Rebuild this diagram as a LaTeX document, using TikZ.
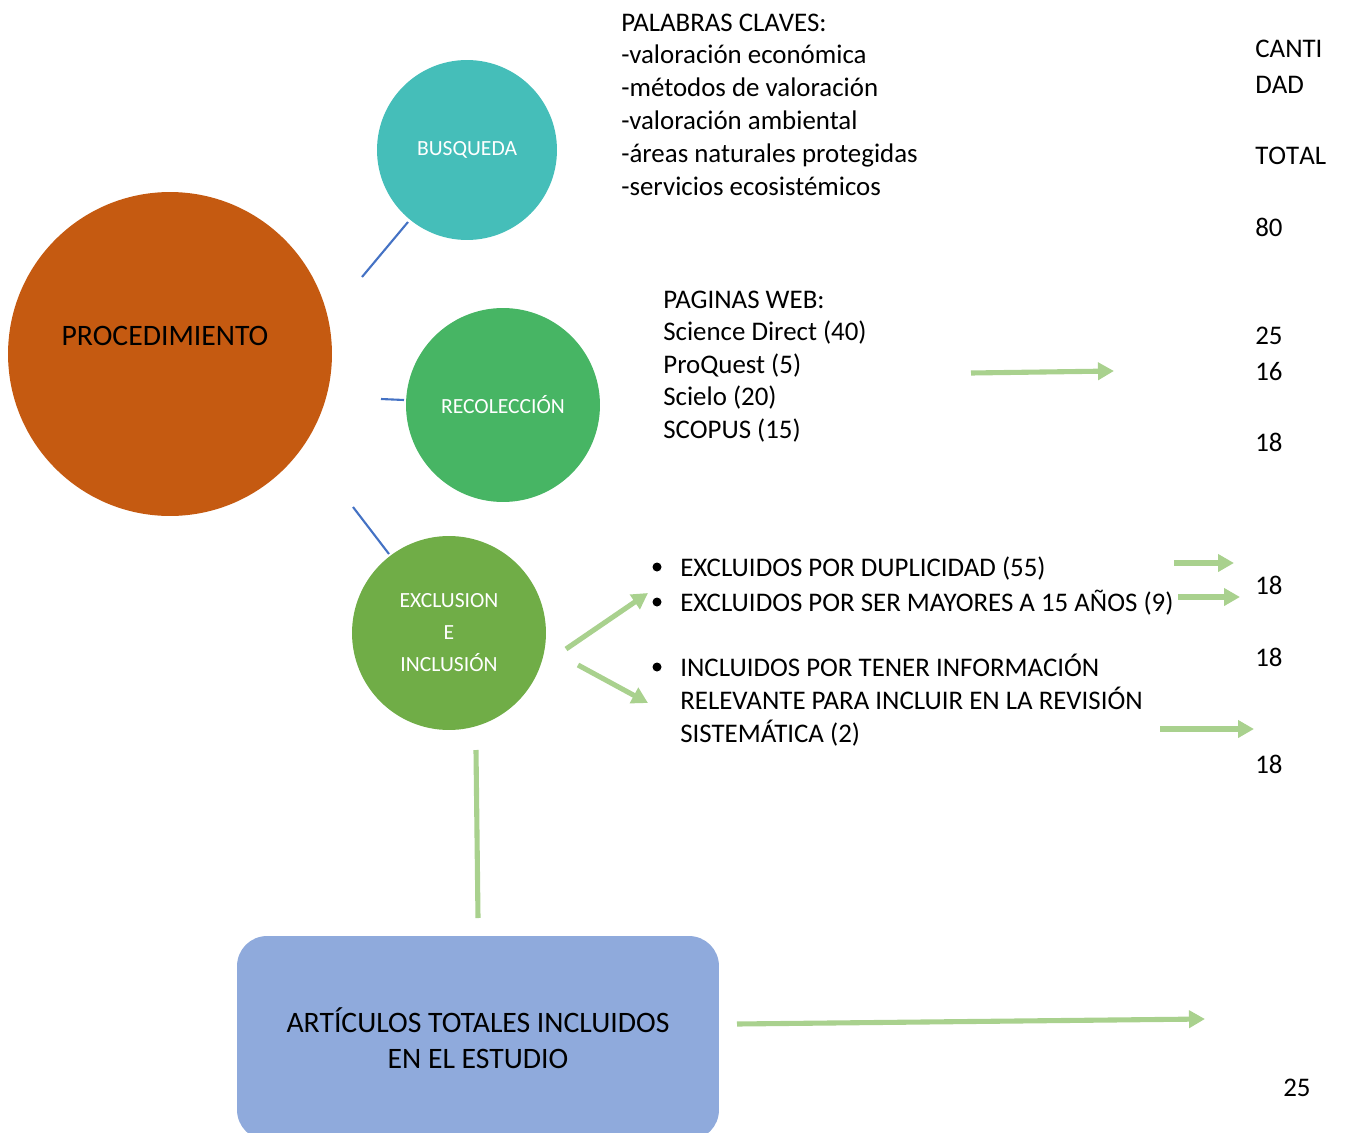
\documentclass[tikz,border=0pt]{standalone}
\usepackage{fontspec}
\setmainfont{Carlito}
\newfontfamily\nokern{Carlito}[Kerning=Off]
\usetikzlibrary{arrows.meta}
\definecolor{procorange}{HTML}{C55A11}
\definecolor{busqteal}{HTML}{45BEB9}
\definecolor{recogreen}{HTML}{47B564}
\definecolor{exclgreen}{HTML}{70AD47}
\definecolor{boxblue}{HTML}{8FAADC}
\definecolor{arrowgreen}{HTML}{A9D18E}
\definecolor{linkblue}{HTML}{4472C4}
\newcommand{\bodyfont}{\fontsize{15.3}{18.8}\selectfont}
\newcommand{\bigfont}{\fontsize{16.9}{20.5}\selectfont}
\newcommand{\smallfont}{\fontsize{12.3}{18.2}\selectfont}
\begin{document}
\begin{tikzpicture}[x=0.02cm, y=-0.02cm,
    bubble/.style={circle, inner sep=0pt, text=white, font=\smallfont, align=center},
    txt/.style={inner sep=0pt, anchor=base west, font=\bodyfont},
    link/.style={linkblue, line width=1.2pt},
    flow/.style={arrowgreen, line width=2.9pt, -{Triangle[length=0.32cm, width=0.34cm]}}]
    \useasboundingbox (0,0) rectangle (1347,1133);

    % Circles
    \node[bubble, fill=procorange, minimum size=6.48cm] (proc) at (170,354) {};
    \node[txt, anchor=base, font=\bigfont] (proclabel) at (165,345) {PROCEDIMIENTO};
    \node[bubble, fill=busqteal, minimum size=3.6cm] (busq) at (467,150) {BUSQUEDA};
    \node[bubble, fill=recogreen, minimum size=3.88cm] (reco) at (503,405) {RECOLECCIÓN};
    \node[bubble, fill=exclgreen, minimum size=3.88cm] (excl) at (449,633) {EXCLUSION\\E\\INCLUSIÓN};

    % Final box
    \node[fill=boxblue, rounded corners=0.6cm, minimum width=9.64cm, minimum height=4.08cm,
          font=\bigfont, align=center] (total) at (478,1038) {ARTÍCULOS TOTALES INCLUIDOS\\EN EL ESTUDIO};

    % Blue connectors
    \coordinate (l1a) at (362,277); \coordinate (l1b) at (408,222);
    \coordinate (l2a) at (381,399); \coordinate (l2b) at (404,400);
    \coordinate (l3a) at (353,507); \coordinate (l3b) at (389,554);
    \draw[link] (l1a) -- (l1b);
    \draw[link] (l2a) -- (l2b);
    \draw[link] (l3a) -- (l3b);

    % Key words
    \foreach \t [count=\i from 0] in {PALABRAS CLAVES:, -valoración económica, -métodos de valoración,
        -valoración ambiental, -áreas naturales protegidas, -servicios ecosistémicos}
        \node[txt] (kw\i) at (621,31+32.9*\i) {\t};

    % Web pages
    \foreach \t [count=\i from 0] in {PAGINAS WEB:, Science Direct (40), ProQuest (5), Scielo (20), SCOPUS (15)}
        \node[txt] (web\i) at (663,308+32.5*\i) {\t};

    % Excluded / included
    \node[txt] (dup) at (680,576) {EXCLUIDOS POR DUPLICIDAD (55)};
    \node[txt] (may) at (680,611) {EXCLUIDOS POR SER MAYORES A 15 AÑOS (9)};
    \foreach \t [count=\i from 0] in {INCLUIDOS POR TENER INFORMACIÓN, RELEVANTE PARA INCLUIR EN LA REVISIÓN, SISTEMÁTICA (2)}
        \node[txt] (inc\i) at (680,676+33*\i) {\t};
    \foreach \y [count=\i] in {567,602,667}
        \fill (657,\y) circle (4.5) coordinate (dot\i);

    % Quantities
    \node[txt, font=\bodyfont\nokern] (q1) at (1255,57) {CANTI};
    \node[txt, font=\bodyfont\nokern] (q2) at (1255,93) {DAD};
    \node[txt, font=\bodyfont\nokern] (q3) at (1255,164) {TOTAL};
    \foreach \t/\y [count=\i] in {80/236, 25/344, 16/380, 18/451, 18/594, 18/666, 18/773}
        \node[txt] (n\i) at (1255,\y) {\t};
    \node[txt] (nlast) at (1283,1096) {25};

    % Green arrows
    \coordinate (a1a) at (566,649);  \coordinate (a1b) at (648,593);
    \coordinate (a2a) at (578,665);  \coordinate (a2b) at (648,703);
    \coordinate (a3a) at (971,373);  \coordinate (a3b) at (1114,371);
    \coordinate (a4a) at (1174,563); \coordinate (a4b) at (1234,563);
    \coordinate (a5a) at (1178,597); \coordinate (a5b) at (1240,597);
    \coordinate (a6a) at (1160,729); \coordinate (a6b) at (1254,729);
    \coordinate (a7a) at (737,1024); \coordinate (a7b) at (1205,1019);
    \coordinate (v1) at (476,750);   \coordinate (v2) at (478,918);
    \foreach \i in {1,...,7}
        \draw[flow] (a\i a) -- (a\i b);
    \draw[flow, -] (v1) -- (v2);
\end{tikzpicture}
\end{document}
